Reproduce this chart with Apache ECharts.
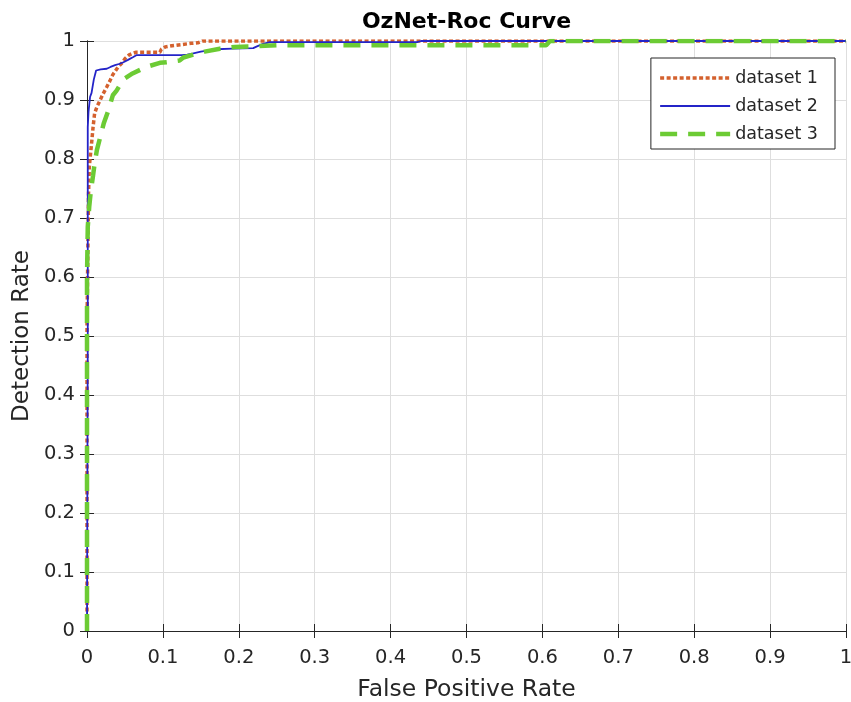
<!DOCTYPE html>
<html>
<head>
<meta charset="utf-8">
<title>OzNet-Roc Curve</title>
<script src="https://cdn.jsdelivr.net/npm/echarts@6/dist/echarts.min.js"></script>
<style>
  html, body { margin: 0; padding: 0; background: #ffffff; }
  #chart { width: 851px; height: 702px; }
</style>
</head>
<body>
<div id="chart"></div>
<script>
// ROC points (false positive rate, detection rate) for each dataset
const fpr1 = [0, 0.000, 0.002, 0.003, 0.004, 0.006, 0.006, 0.008, 0.010, 0.013, 0.017, 0.021, 0.026, 0.030, 0.034, 0.041, 0.047, 0.050, 0.055, 0.060, 0.065, 0.080, 0.096, 0.098, 0.103, 0.112, 0.125, 0.137, 0.146, 0.152, 1.0];
const tpr1 = [0, 0.52, 0.74, 0.786, 0.800, 0.800, 0.826, 0.854, 0.877, 0.888, 0.899, 0.910, 0.922, 0.932, 0.943, 0.956, 0.964, 0.970, 0.976, 0.979, 0.981, 0.981, 0.981, 0.986, 0.990, 0.992, 0.994, 0.996, 0.997, 1.0, 1.0];

const fpr2 = [0, 0.001, 0.001, 0.002, 0.004, 0.006, 0.009, 0.012, 0.018, 0.026, 0.031, 0.037, 0.042, 0.048, 0.054, 0.061, 0.065, 0.125, 0.132, 0.140, 0.150, 0.160, 0.170, 0.192, 0.219, 0.224, 0.232, 0.241, 0.435, 0.440, 1.0];
const tpr2 = [0, 0.50, 0.854, 0.880, 0.905, 0.912, 0.935, 0.950, 0.952, 0.953, 0.956, 0.959, 0.961, 0.964, 0.968, 0.973, 0.976, 0.976, 0.977, 0.979, 0.982, 0.984, 0.986, 0.987, 0.988, 0.991, 0.995, 0.998, 0.998, 1.0, 1.0];

const fpr3 = [0, 0.000, 0.001, 0.003, 0.005, 0.008, 0.010, 0.013, 0.017, 0.022, 0.028, 0.034, 0.039, 0.048, 0.060, 0.078, 0.096, 0.105, 0.122, 0.127, 0.140, 0.155, 0.175, 0.195, 0.220, 0.250, 0.605, 0.610, 1.0];
const tpr3 = [0, 0.60, 0.685, 0.720, 0.745, 0.772, 0.792, 0.815, 0.835, 0.860, 0.882, 0.908, 0.916, 0.935, 0.945, 0.956, 0.963, 0.964, 0.967, 0.972, 0.977, 0.982, 0.987, 0.990, 0.991, 0.993, 0.993, 1.0, 1.0];

const seriesNames = ['dataset 1', 'dataset 2', 'dataset 3'];
const axisTicks = [0, 0.1, 0.2, 0.3, 0.4, 0.5, 0.6, 0.7, 0.8, 0.9, 1];

const FONT = 'DejaVu Sans';
const INK = '#262626';

const GRID = { left: 87, right: 5, top: 41, bottom: 71 };
const CHART_W = 851;

function pairs(xs, ys) {
  return xs.map((x, i) => [x, ys[i]]);
}

function axisBase(extra) {
  return Object.assign({
    type: 'value',
    min: axisTicks[0],
    max: axisTicks[axisTicks.length - 1],
    interval: axisTicks[1] - axisTicks[0],
    axisLine: { show: true, lineStyle: { color: INK, width: 1 } },
    axisTick: { show: true, inside: true, length: 7, lineStyle: { color: INK, width: 1 } },
    splitLine: { show: false }
  }, extra);
}

const chart = echarts.init(document.getElementById('chart'), null, { renderer: 'canvas' });

chart.setOption({
  animation: false,
  backgroundColor: '#ffffff',
  title: {
    text: 'OzNet-Roc Curve',
    // centred over the plotting area rather than the whole canvas
    left: GRID.left + (CHART_W - GRID.left - GRID.right) / 2,
    textAlign: 'center',
    top: 11,
    padding: 0,
    textStyle: { fontFamily: FONT, fontSize: 22, fontWeight: 'bold', color: '#000000' }
  },
  // fixed plot rectangle: no automatic shrinking to fit labels
  grid: Object.assign({ containLabel: false, outerBoundsMode: 'none' }, GRID),
  legend: {
    orient: 'vertical',
    right: 16,
    top: 58,
    padding: [10, 17, 5, 7],
    itemWidth: 70,
    itemHeight: 1,
    itemGap: 8,
    backgroundColor: '#ffffff',
    borderColor: INK,
    borderWidth: 1,
    borderRadius: 0,
    data: seriesNames,
    itemStyle: { opacity: 0 },
    lineStyle: { width: 'inherit' },
    textStyle: { fontFamily: FONT, fontSize: 17.5, color: INK, lineHeight: 20 }
  },
  xAxis: [
    axisBase({
      position: 'bottom',
      name: 'False Positive Rate',
      nameLocation: 'middle',
      nameGap: 47,
      nameTextStyle: { fontFamily: FONT, fontSize: 23.5, color: INK },
      axisLabel: { show: true, margin: 17, fontFamily: FONT, fontSize: 19.5, color: INK },
      splitLine: { show: true, lineStyle: { color: '#dedede', width: 1 } }
    }),
    axisBase({ position: 'top', axisLabel: { show: false } })
  ],
  yAxis: [
    axisBase({
      position: 'left',
      name: 'Detection Rate',
      nameLocation: 'middle',
      nameGap: 52,
      nameTextStyle: { fontFamily: FONT, fontSize: 23, color: INK },
      axisLabel: { show: true, margin: 12, fontFamily: FONT, fontSize: 19.5, color: INK },
      splitLine: { show: true, lineStyle: { color: '#dedede', width: 1 } }
    }),
    axisBase({ position: 'right', axisLabel: { show: false } })
  ],
  series: [
    {
      name: seriesNames[0],
      type: 'line',
      xAxisIndex: 0, yAxisIndex: 0,
      data: pairs(fpr1, tpr1),
      symbol: 'none',
      color: '#D4612E',
      lineStyle: { color: '#D4612E', width: 3.5, type: [4, 2.5], cap: 'butt' }
    },
    {
      name: seriesNames[1],
      type: 'line',
      xAxisIndex: 0, yAxisIndex: 0,
      data: pairs(fpr2, tpr2),
      symbol: 'none',
      color: '#2424C8',
      lineStyle: { color: '#2424C8', width: 1.8, type: 'solid' }
    },
    {
      name: seriesNames[2],
      type: 'line',
      xAxisIndex: 0, yAxisIndex: 0,
      data: pairs(fpr3, tpr3),
      symbol: 'none',
      color: '#6CCB34',
      lineStyle: { color: '#6CCB34', width: 4.5, type: [17, 11], cap: 'butt' }
    }
  ]
});
</script>
</body>
</html>
